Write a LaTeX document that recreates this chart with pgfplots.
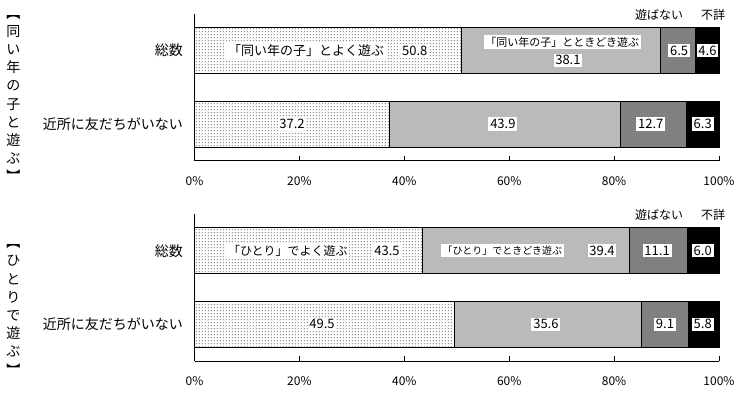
\documentclass[border=0pt]{standalone}
\usepackage{fontspec}
\setmainfont{Noto Sans CJK JP}
\usepackage{pgfplots}
\pgfplotsset{compat=1.18}
\usetikzlibrary{patterns}
\pgfdeclarepatternformonly{sparsedots}{\pgfqpoint{0pt}{0pt}}{\pgfqpoint{3pt}{3pt}}{\pgfqpoint{3pt}{3pt}}{%
 \pgfpathrectangle{\pgfqpoint{1pt}{1pt}}{\pgfqpoint{1pt}{1pt}}\pgfusepath{fill}}
\pgfplotsset{
  every non boxed x axis/.style={},
  every non boxed y axis/.style={},
  mystyle/.style={
    xbar stacked, scale only axis, width=524.5pt,
    xmin=0, xmax=100, ymin=-0.5, ymax=1.5, enlargelimits=false,
    bar width=46pt, clip=false,
    axis x line*=bottom, axis y line*=left,
    axis line style={-, line width=0.8pt},
    tick align=inside, major tick length=4.5pt, minor tick length=5pt,
    tick style={black, line width=0.8pt},
    xtick={0,20,40,60,80,100},
    xticklabels={0\%,20\%,40\%,60\%,80\%,100\%},
    xticklabel style={font=\fontsize{12}{12}\selectfont, anchor=center, yshift=-20.5pt},
    ytick=\empty, minor ytick={-0.5,0.5,1.5},
    every axis plot/.append style={draw=black, line width=0.7pt},
  },
}
\tikzset{
  lbl/.style={fill=white, inner sep=1.8pt, font=\fontsize{13}{13}\selectfont},
  lbls/.style={fill=white, inner sep=1.8pt, font=\fontsize{11}{11}\selectfont},
  cat/.style={anchor=east, inner sep=0pt, xshift=-11.5pt, font=\fontsize{14}{14}\selectfont},
  hdr/.style={inner sep=0pt, font=\fontsize{12}{12}\selectfont},
}
\begin{document}
\begin{tikzpicture}[x=1pt,y=1pt]
\useasboundingbox (0,0) rectangle (740,396);
% vertical group labels
\node[align=center, inner sep=0pt, font=\fontsize{14}{18.2}\selectfont] at (13.3,297.5)
 {︻\\同\\い\\年\\の\\子\\と\\遊\\ぶ\\︼};
\node[align=center, inner sep=0pt, font=\fontsize{14}{18.2}\selectfont] at (13.3,86)
 {︻\\ひ\\と\\り\\で\\遊\\ぶ\\︼};
% top panel
\begin{axis}[mystyle, height=146.7pt, at={(194.5pt,235.3pt)}, anchor=south west]
\addplot[pattern=sparsedots] coordinates {(37.2,0) (50.8,1)};
\addplot[fill=black!27] coordinates {(43.9,0) (38.1,1)};
\addplot[fill=black!50] coordinates {(12.7,0) (6.5,1)};
\addplot[fill=black] coordinates {(6.3,0) (4.6,1)};
\coordinate (tc1) at (axis cs:0,1);
\coordinate (tc0) at (axis cs:0,0);
\coordinate (ta1) at (axis cs:21.3,1);
\coordinate (ta2) at (axis cs:42.0,1);
\coordinate (ta3) at (axis cs:70.1,1.116);
\coordinate (ta4) at (axis cs:71.2,0.87);
\coordinate (ta5) at (axis cs:92.4,1);
\coordinate (ta6) at (axis cs:97.8,1);
\coordinate (tb1) at (axis cs:18.6,0);
\coordinate (tb2) at (axis cs:58.8,0);
\coordinate (tb3) at (axis cs:87.0,0);
\coordinate (tb4) at (axis cs:96.9,0);
\coordinate (th1) at (axis cs:88.6,1.485);
\coordinate (th2) at (axis cs:98.9,1.485);
\end{axis}
\node[cat] at (tc1) {総数};
\node[cat] at (tc0) {近所に友だちがいない};
\node[lbl] at (ta1) {「同い年の子」とよく遊ぶ};
\node[lbl] at (ta2) {50.8};
\node[lbls] at (ta3) {「同い年の子」とときどき遊ぶ};
\node[lbl] at (ta4) {38.1};
\node[lbl] at (ta5) {6.5};
\node[lbl] at (ta6) {4.6};
\node[lbl] at (tb1) {37.2};
\node[lbl] at (tb2) {43.9};
\node[lbl] at (tb3) {12.7};
\node[lbl] at (tb4) {6.3};
\node[hdr] at (th1) {遊ばない};
\node[hdr] at (th2) {不詳};
% bottom panel
\begin{axis}[mystyle, height=147pt, at={(194.5pt,35pt)}, anchor=south west]
\addplot[pattern=sparsedots] coordinates {(49.5,0) (43.5,1)};
\addplot[fill=black!27] coordinates {(35.6,0) (39.4,1)};
\addplot[fill=black!50] coordinates {(9.1,0) (11.1,1)};
\addplot[fill=black] coordinates {(5.8,0) (6.0,1)};
\coordinate (bc1) at (axis cs:0,1);
\coordinate (bc0) at (axis cs:0,0);
\coordinate (ba1) at (axis cs:17.8,1);
\coordinate (ba2) at (axis cs:36.7,1);
\coordinate (ba3) at (axis cs:58.7,1);
\coordinate (ba4) at (axis cs:77.7,1);
\coordinate (ba5) at (axis cs:88.2,1);
\coordinate (ba6) at (axis cs:96.9,1);
\coordinate (bb1) at (axis cs:24.3,0);
\coordinate (bb2) at (axis cs:67.0,0);
\coordinate (bb3) at (axis cs:89.7,0);
\coordinate (bb4) at (axis cs:96.9,0);
\coordinate (bh1) at (axis cs:88.6,1.49);
\coordinate (bh2) at (axis cs:98.9,1.49);
\end{axis}
\node[cat] at (bc1) {総数};
\node[cat] at (bc0) {近所に友だちがいない};
\node[lbl, font=\fontsize{12}{12}\selectfont] at (ba1) {「ひとり」でよく遊ぶ};
\node[lbl] at (ba2) {43.5};
\node[lbls, font=\fontsize{10}{10}\selectfont] at (ba3) {「ひとり」でときどき遊ぶ};
\node[lbl] at (ba4) {39.4};
\node[lbl] at (ba5) {11.1};
\node[lbl] at (ba6) {6.0};
\node[lbl] at (bb1) {49.5};
\node[lbl] at (bb2) {35.6};
\node[lbl] at (bb3) {9.1};
\node[lbl] at (bb4) {5.8};
\node[hdr] at (bh1) {遊ばない};
\node[hdr] at (bh2) {不詳};
\end{tikzpicture}
\end{document}
